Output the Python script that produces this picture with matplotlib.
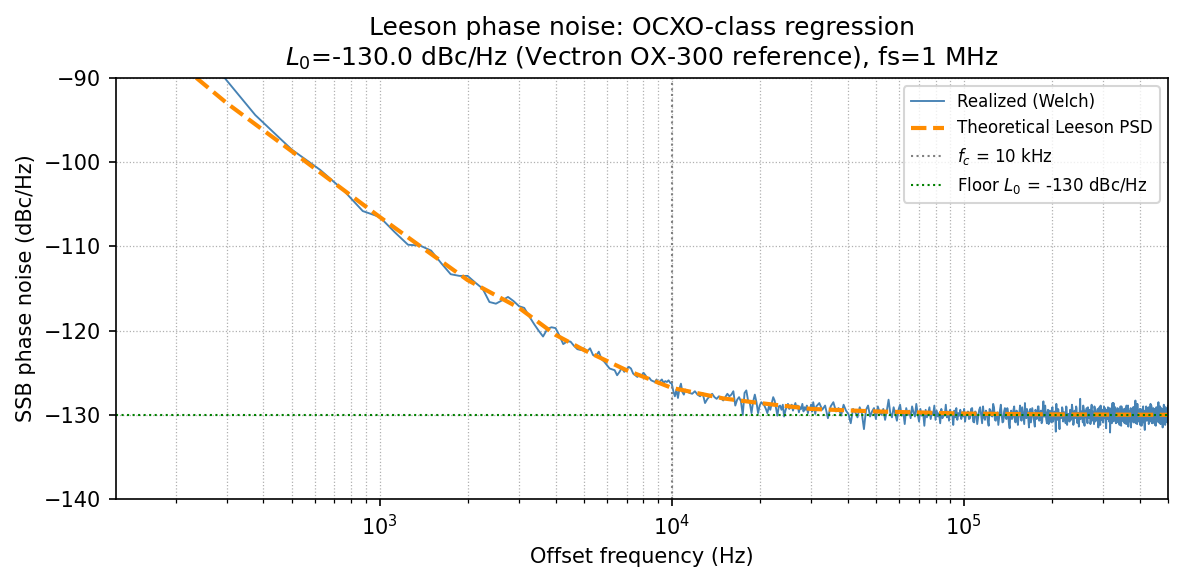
import numpy as np
import matplotlib
matplotlib.use("Agg")
import matplotlib.pyplot as plt

# Welch grid: fs = 1 MHz, bin spacing 125 Hz
fs = 1e6
df = 125.0
L0 = -130.0
fc = 1e4

# realized PSD (dBc/Hz), in chunks of (first bin, bin step, values)
real_lo_start, real_lo_step = 2, 1
real_lo = [-87.0, -94.4, -98.5, -100.9, -103.3, -105.8, -106.5, -108.3, -109.8, -109.9,
           -110.5, -112.0, -113.3, -113.5, -113.5, -114.3, -115.0, -116.6, -116.8, -116.4,
           -116.0, -116.5, -117.1, -117.3, -118.3, -119.2, -120.0, -120.7, -119.8, -119.6,
           -119.7, -120.6, -121.6, -121.3, -121.3, -121.8, -122.2, -122.3, -122.1,
           -122.5, -122.1, -122.9, -123.0, -122.5, -123.4, -123.7, -124.1, -124.5, -124.6,
           -124.7, -125.3, -124.9, -124.4, -124.9, -124.6, -124.3, -124.5, -125.1, -125.3,
           -125.5, -125.2, -125.4, -125.0, -125.3, -125.7, -125.6, -125.9, -126.0, -126.1,
           -125.8, -126.3, -126.0, -125.8, -126.2, -126.0, -126.1, -125.9, -126.2, -126.3,
           -127.2, -127.8, -127.0, -128.0, -126.9, -126.3, -127.3, -127.6, -127.0, -127.2]

real_mid_start, real_mid_step = 92, 2
real_mid = [-127.4, -127.5, -127.2, -127.6, -127.8, -127.4, -128.6, -128.1, -127.8, -127.5,
            -127.9, -128.1, -127.8, -128.0, -128.3, -127.9, -127.5, -127.8, -127.6, -127.2,
            -128.9, -128.2, -127.9, -128.4, -130.0, -127.4, -127.1, -128.3, -128.6, -129.8,
            -128.4, -127.6, -128.5, -129.8, -128.9, -128.5, -128.7, -128.9, -129.3, -129.8,
            -129.0, -129.4, -128.6, -127.9, -128.3, -129.2, -130.1, -129.0, -128.9, -129.4,
            -128.8, -130.2, -129.5, -129.0, -128.7, -129.3, -129.1, -128.8, -129.5, -129.0,
            -128.6, -129.2, -128.9, -129.7, -129.1, -129.3, -128.7, -129.6, -129.1, -129.4,
            -128.9, -129.8, -129.2, -129.3, -128.8, -129.6, -128.5, -129.2, -129.9, -129.0]

real_hi_start, real_hi_step = 256, 6
real_hi = [-128.6, -129.4, -128.9, -130.4, -129.0, -128.5, -129.6, -129.2, -130.1, -128.8, -129.5, -129.9, -131.0, -129.3, -129.7,
           -130.3, -129.1, -129.8, -131.7, -129.4, -128.9, -130.2, -129.6, -129.2, -130.5, -129.0, -129.7, -130.0, -129.3, -130.6,
           -129.5, -128.2, -129.8, -130.3, -129.1, -129.9, -130.7, -129.4, -128.8, -130.1, -129.6, -131.1, -129.2, -130.0, -129.5,
           -130.4, -129.0, -129.7, -130.2, -128.7, -129.9, -130.8, -129.3, -130.1, -129.6, -131.3, -129.4, -130.3, -129.8, -129.1,
           -130.5, -129.7, -130.0, -128.9, -130.6, -129.5, -130.2, -129.8, -131.0, -129.3, -130.4, -129.7, -130.1, -128.8, -130.3,
           -129.6, -130.7, -129.4, -130.0, -129.9, -131.2, -129.5, -130.3, -129.2, -130.6, -129.8, -130.1, -129.4, -130.5, -129.7,
           -130.2, -129.3, -130.8, -129.9, -130.0]

real_top_start, real_top_step = 826, 14
real_top = [-129.6, -130.4, -129.2, -130.9, -129.8, -130.2, -129.1, -131.0, -130.3, -129.5, -130.7, -129.3, -130.1,
            -128.7, -130.6, -129.9, -131.2, -129.4, -130.0, -130.8, -129.2, -130.5, -129.7, -131.6, -129.5, -130.3,
            -129.0, -130.9, -129.6, -130.2, -128.9, -130.7, -129.8, -131.1, -130.0, -129.3, -130.5, -129.6, -130.9,
            -129.2, -130.3, -131.4, -129.7, -130.1, -129.0, -130.6, -129.5, -130.8, -128.4, -130.2, -129.9, -131.0,
            -129.4, -130.5, -129.8, -130.9, -129.1, -130.3, -129.6, -132.0, -130.1, -129.3, -130.7, -129.8, -130.4,
            -129.1, -130.8, -129.7, -130.2, -129.0, -131.2, -129.9, -130.4, -129.4, -130.6, -128.8, -130.1, -130.9,
            -129.5, -130.3, -129.2, -131.0, -129.8, -130.5, -128.1, -130.2, -129.6, -130.9, -129.3, -131.3, -130.0,
            -129.7, -130.6, -129.1, -130.3, -129.9, -131.1, -129.4, -130.7, -129.6, -130.2, -129.0, -130.8, -129.8,
            -130.4, -129.3, -131.5, -129.7, -130.1, -128.9, -130.6, -129.5, -130.9, -129.8, -130.3, -129.2, -131.0,
            -129.6, -130.5, -129.1, -130.2, -129.9, -132.1, -129.7, -130.4, -129.3, -130.8, -128.6, -130.1, -129.8,
            -130.6, -129.4, -130.9, -129.2, -130.3, -129.7, -131.2, -129.9, -130.5, -129.0, -130.7, -129.6, -130.2,
            -129.3, -131.0, -129.8, -130.4, -128.9, -130.6, -129.5, -131.4, -130.0, -129.7, -130.8, -129.2, -130.3,
            -129.9, -130.5, -129.1, -130.9, -129.6, -130.2, -128.3, -130.7, -129.8, -131.1, -129.4, -130.4, -129.7,
            -130.8, -129.3, -130.1, -129.9, -131.3, -129.5, -130.6, -129.0, -130.3, -129.8, -131.8, -129.6, -130.2,
            -129.2, -130.7, -129.7, -130.4, -129.1, -130.9, -129.6, -130.1, -128.7, -130.5, -129.9, -131.0, -129.4,
            -130.3, -129.8, -130.6, -129.3, -131.2, -129.7, -130.0, -129.1, -130.8, -129.5, -130.4, -128.5, -130.2,
            -129.6, -131.0, -129.9, -130.3, -129.2, -130.7, -129.8, -131.5, -130.1, -129.4, -130.6, -129.0, -130.9,
            -129.7, -130.2, -129.3, -130.8, -129.9, -130.4, -128.9, -131.1, -129.6, -130.3, -129.8, -130.6, -130.0]

# in-between bins of the same band
real_top2_start, real_top2_step = 833, 14
real_top2 = [-130.5, -129.3, -130.8, -129.6, -131.1, -129.4, -130.1, -129.0, -130.6, -129.8, -131.3, -129.5, -130.2,
             -129.1, -130.7, -129.7, -130.3, -128.8, -130.9, -129.6, -130.4, -129.2, -131.0, -129.9, -130.5, -129.4,
             -130.8, -129.5, -131.2, -129.8, -130.3, -129.1, -130.6, -128.6, -130.4, -129.7, -131.5, -129.3, -130.1,
             -129.8, -130.9, -129.4, -130.5, -129.0, -130.7, -129.6, -131.0, -129.3, -130.2, -128.9, -130.6, -129.7,
             -131.1, -129.5, -130.3, -129.2, -130.8, -129.9, -130.4, -128.7, -130.6, -129.4, -131.7, -129.8, -130.2,
             -129.3, -130.6, -129.7, -131.0, -129.1, -130.3, -129.9, -130.8, -129.5, -130.1, -129.2, -131.2, -129.6,
             -130.4, -129.0, -130.7, -129.8, -131.4, -129.3, -130.5, -129.6, -130.2, -128.9, -130.9, -129.5, -130.3,
             -129.2, -131.0, -129.7, -130.4, -129.4, -130.8, -128.8, -130.6, -129.9, -131.1, -129.3, -130.2, -129.6,
             -130.7, -129.5, -130.3, -129.1, -131.2, -129.8, -130.5, -129.4, -130.9, -129.0, -130.4, -129.7, -131.6,
             -129.4, -130.2, -129.6, -130.8, -129.2, -130.5, -129.9, -131.0, -128.6, -130.3, -129.5, -130.7, -129.1,
             -131.0, -129.7, -130.4, -129.3, -130.9, -129.8, -130.2, -129.0, -131.3, -129.6, -130.5, -129.4, -130.8,
             -129.5, -130.6, -129.2, -131.1, -129.9, -130.3, -128.9, -130.7, -129.6, -130.4, -129.3, -131.5, -129.8,
             -130.2, -129.4, -130.9, -129.1, -130.5, -129.7, -131.0, -129.5, -130.3, -128.7, -130.8, -129.9, -130.4,
             -129.6, -131.2, -129.3, -130.6, -129.8, -130.1, -129.2, -130.9, -129.5, -131.4, -129.7, -130.3, -129.0,
             -130.7, -129.4, -130.5, -129.9, -131.1, -129.3, -130.2, -129.6, -130.8, -128.9, -130.4, -129.7, -131.0,
             -129.2, -130.6, -129.8, -130.3, -129.5, -131.3, -129.1, -130.7, -129.6, -130.1, -129.4, -130.9, -129.8,
             -130.4, -129.0, -131.1, -129.7, -130.5, -129.3, -130.8, -129.9, -130.2, -128.8, -130.6, -129.5, -131.2,
             -129.6, -130.3, -129.4, -130.9, -129.1, -130.5, -129.8, -131.0, -129.3, -130.7, -129.6, -130.2, -129.9]

# theoretical Leeson curve, read at a few offsets
f_th = [125, 236, 300, 500, 1000, 1500, 2000, 3000, 4000, 5000, 7000, 10000,
        15000, 20000, 30000, 50000, 100000, 200000, 500000]
L_th = [-81.0, -90.0, -93.0, -98.7, -106.5, -110.9, -114.0, -117.3, -120.5, -122.3,
        -124.7, -126.8, -128.05, -128.6, -129.3, -129.6, -129.85, -129.95, -130.0]

chunks = [(real_lo_start, real_lo_step, real_lo),
          (real_mid_start, real_mid_step, real_mid),
          (real_hi_start, real_hi_step, real_hi),
          (real_top_start, real_top_step, real_top),
          (real_top2_start, real_top2_step, real_top2)]
bins = np.concatenate([s + st*np.arange(len(v)) for s, st, v in chunks])
vals = np.concatenate([np.array(v) for s, st, v in chunks])
order = np.argsort(bins)
f_real = bins[order]*df
L_real = vals[order]

fig, ax = plt.subplots(figsize=(1183/150, 584/150), dpi=150)
fig.subplots_adjust(left=0.098, right=0.9873, top=0.8664, bottom=0.1455)

ax.semilogx(f_real, L_real, color='steelblue', lw=0.9, label='Realized (Welch)')
ax.semilogx(f_th, L_th, '--', color='darkorange', lw=2, label='Theoretical Leeson PSD')
ax.axvline(fc, color='gray', ls=':', lw=1, label=r'$f_c$ = 10 kHz')
ax.axhline(L0, color='green', ls=':', lw=1, label=r'Floor $L_0$ = -130 dBc/Hz')

ax.set_xlim(125, 5e5)
ax.set_ylim(-140, -90)
ax.grid(True, which='both', ls=':', lw=0.6)
ax.set_xlabel('Offset frequency (Hz)')
ax.set_ylabel('SSB phase noise (dBc/Hz)')
ax.set_title('Leeson phase noise: OCXO-class regression\n'
             '$L_0$=-130.0 dBc/Hz (Vectron OX-300 reference), fs=1 MHz')
ax.legend(loc='upper right', fontsize=8)

fig.savefig('out.png', dpi=150)
